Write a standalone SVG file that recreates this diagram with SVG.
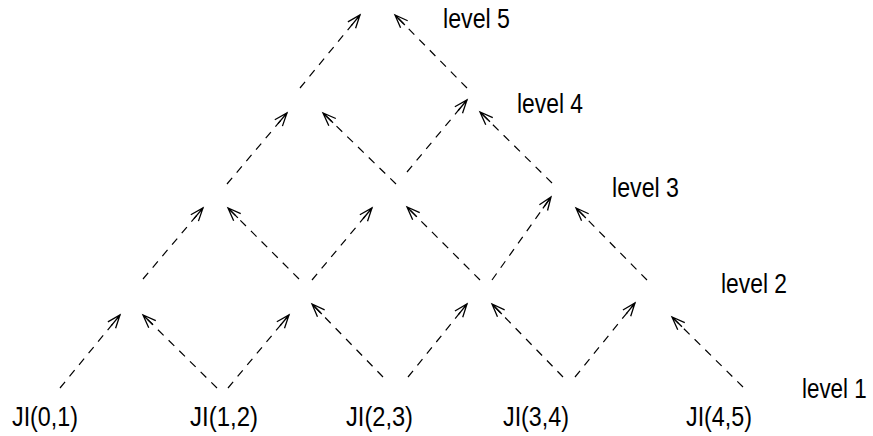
<svg xmlns="http://www.w3.org/2000/svg" width="873" height="436" viewBox="0 0 873 436">
<style>
text{font-family:"Liberation Sans",Arial,sans-serif;font-size:28px;fill:#000}
.c{fill:none;stroke:#000;stroke-width:1.2;stroke-dasharray:8 7;marker-end:url(#ah)}
</style>
<defs>
<marker id="ah" markerUnits="userSpaceOnUse" viewBox="-15 -7 17 14" refX="0" refY="0" markerWidth="17" markerHeight="14" orient="auto" overflow="visible">
<path d="M-13,-5 L0,0 L-13,5 M-14,0 L0,0" fill="none" stroke="#000" stroke-width="1.3" stroke-dasharray="none"/>
</marker>
</defs>
<rect width="873" height="436" fill="#fff"/>
<g id="connectors">
<line class="c" x1="60" y1="388" x2="120" y2="315"/>
<line class="c" x1="217" y1="388" x2="143" y2="315"/>
<line class="c" x1="228" y1="388" x2="289" y2="315"/>
<line class="c" x1="383" y1="377" x2="312" y2="304"/>
<line class="c" x1="408" y1="377" x2="467" y2="304"/>
<line class="c" x1="563" y1="377" x2="492" y2="304"/>
<line class="c" x1="575" y1="377" x2="635" y2="303"/>
<line class="c" x1="743" y1="387" x2="672" y2="317"/>
<line class="c" x1="143" y1="279" x2="203" y2="208"/>
<line class="c" x1="299" y1="279" x2="228" y2="208"/>
<line class="c" x1="312" y1="280" x2="372" y2="208"/>
<line class="c" x1="480" y1="280" x2="407" y2="207"/>
<line class="c" x1="492" y1="280" x2="551" y2="197"/>
<line class="c" x1="647" y1="280" x2="576" y2="208"/>
<line class="c" x1="227" y1="184" x2="287" y2="113"/>
<line class="c" x1="396" y1="184" x2="323" y2="113"/>
<line class="c" x1="407" y1="172" x2="467" y2="100"/>
<line class="c" x1="552" y1="183" x2="480" y2="112"/>
<line class="c" x1="300" y1="88" x2="360" y2="15"/>
<line class="c" x1="467" y1="88" x2="395" y2="15"/>
</g>
<g id="node-JI01"><text x="12" y="426" textLength="66" lengthAdjust="spacingAndGlyphs">JI(0,1)</text></g>
<g id="node-JI12"><text x="190" y="426" textLength="68" lengthAdjust="spacingAndGlyphs">JI(1,2)</text></g>
<g id="node-JI23"><text x="346" y="426" textLength="67" lengthAdjust="spacingAndGlyphs">JI(2,3)</text></g>
<g id="node-JI34"><text x="503" y="426" textLength="66" lengthAdjust="spacingAndGlyphs">JI(3,4)</text></g>
<g id="node-JI45"><text x="686" y="426" textLength="66" lengthAdjust="spacingAndGlyphs">JI(4,5)</text></g>
<g id="level-labels">
<text x="443" y="28" textLength="67" lengthAdjust="spacingAndGlyphs">level 5</text>
<text x="517" y="113" textLength="66" lengthAdjust="spacingAndGlyphs">level 4</text>
<text x="612" y="197" textLength="67" lengthAdjust="spacingAndGlyphs">level 3</text>
<text x="721" y="293" textLength="66" lengthAdjust="spacingAndGlyphs">level 2</text>
<text transform="translate(802,398) scale(0.8,1)">level 1</text>
</g>
</svg>
